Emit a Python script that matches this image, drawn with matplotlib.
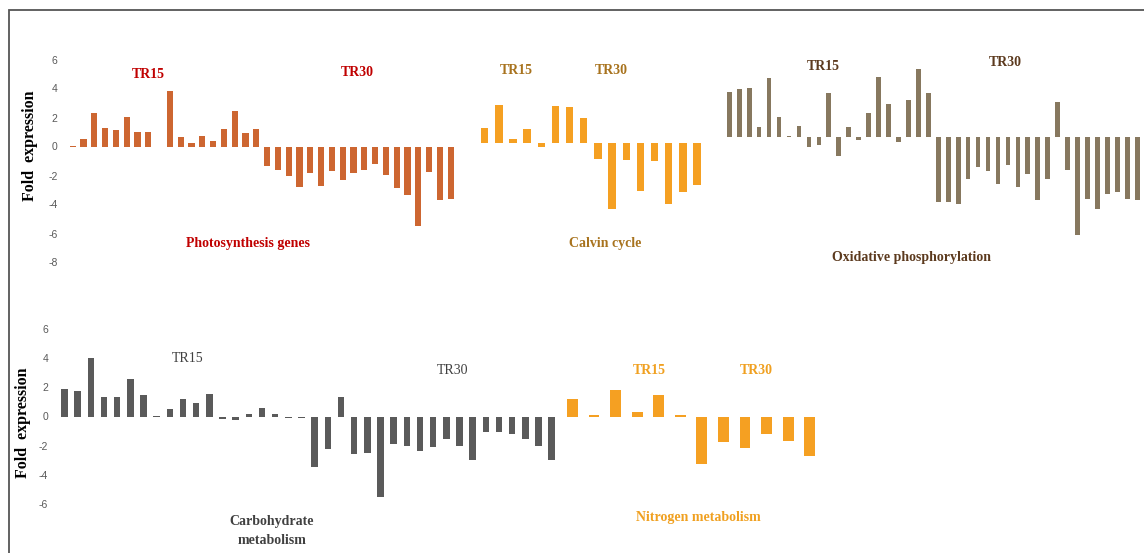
import numpy as np
import matplotlib.pyplot as plt
from matplotlib.patches import Rectangle

W, H = 1144, 553

# fold expression values (TR15 first, then TR30)
photo_tr15 = [0.05, 0.5, 2.3, 1.3, 1.15, 2.05, 1.0, 1.0, 0.0, 3.8, 0.65, 0.25, 0.7, 0.35, 1.2, 2.45, 0.9, 1.2]
photo_tr30 = [-1.35, -1.6, -2.0, -2.8, -1.8, -2.7, -1.7, -2.3, -1.85, -1.65, -1.2, -1.95, -2.85, -3.35, -5.5, -1.75, -3.7, -3.65]

calvin_tr15 = [1.07, 2.64, 0.3, 0.98, -0.27, 2.57, 2.48, 1.77]
calvin_tr30 = [-1.05, -4.55, -1.14, -3.3, -1.2, -4.2, -3.36, -2.9]

oxphos_tr15 = [3.07, 3.3, 3.36, 0.66, 4.02, 1.34, 0.05, 0.75, -0.73, -0.59, 3.02, -1.36, 0.7, -0.23, 1.64,
               4.09, 2.25, -0.36, 2.5, 4.66, 2.98]
oxphos_tr30 = [-4.5, -4.5, -4.64, -2.9, -2.09, -2.36, -3.25, -1.95, -3.5, -2.6, -4.36, -2.95, 2.39, -2.27,
               -6.8, -4.27, -5.0, -3.98, -3.8, -4.27, -4.36]

carb_tr15 = [1.86, 1.77, 3.98, 1.36, 1.36, 2.57, 1.47, 0.05, 0.5, 1.22, 0.9, 1.56, -0.18, -0.23, 0.2, 0.55,
             0.2, -0.08, -0.08]
carb_tr30 = [-3.45, -2.23, 1.31, -2.57, -2.53, -5.5, -1.88, -2.0, -2.34, -2.11, -1.54, -2.05, -2.99, -1.08,
             -1.08, -1.2, -1.54, -2.0, -2.99]

nitro_tr15 = [1.22, 0.11, 1.82, 0.32, 1.52, 0.14]
nitro_tr30 = [-3.24, -1.72, -2.16, -1.17, -1.66, -2.69]

fig = plt.figure(figsize=(W / 100, H / 100), dpi=100)

# frame around the figure
fig.patches.append(Rectangle((9 / W, -0.1), 1.2, 1.1 - 10 / H, transform=fig.transFigure,
                             fill=False, edgecolor='#555555', linewidth=1.3))


def panel(vals, first_px, last_px, zero_px, ylim, color, width, ppu=14.5, ticks=None):
    n = len(vals)
    step = (last_px - first_px) / (n - 1)
    left = first_px - step / 2
    top = zero_px - ylim[1] * ppu
    bottom = zero_px - ylim[0] * ppu
    ax = fig.add_axes([left / W, 1 - bottom / H, n * step / W, (bottom - top) / H])
    ax.bar(np.arange(n), vals, width=width, color=color, edgecolor='none')
    ax.set_xlim(-0.5, n - 0.5)
    ax.set_ylim(*ylim)
    ax.set_xticks([])
    for s in ax.spines.values():
        s.set_visible(False)
    ax.patch.set_alpha(0)
    if ticks is None:
        ax.set_yticks([])
    else:
        ax.set_yticks(ticks)
        ax.set_yticklabels([str(t) for t in ticks], color='#595959', fontsize=7.5,
                           family='Liberation Sans')
        ax.tick_params(axis='y', length=0, pad=7)
    return ax


def label(x, y, s, color, size=10, weight='bold', **kw):
    fig.text(x / W, 1 - y / H, s, color=color, fontsize=size, fontweight=weight,
             family='Liberation Serif', ha='center', va='center', **kw)


panel(photo_tr15 + photo_tr30, 72.7, 450.7, 146.5, (-8, 6), '#CD6631', 0.56, ticks=list(range(6, -9, -2)))
panel(calvin_tr15 + calvin_tr30, 484.7, 697.0, 143.3, (-8, 6), '#F5A022', 0.52)
panel(oxphos_tr15 + oxphos_tr30, 729.3, 1137.3, 136.7, (-8, 6), '#87785F', 0.47)
panel(carb_tr15 + carb_tr30, 64.5, 551.7, 416.5, (-6, 6), '#5A5A5A', 0.5, ppu=14.6,
      ticks=list(range(6, -7, -2)))
panel(nitro_tr15 + nitro_tr30, 572.5, 809.7, 416.7, (-6, 6), '#F5A022', 0.5, ppu=14.6)

# axis titles
label(30, 146, 'Fold  expression', 'black', size=11.5, rotation=90)
label(23, 423, 'Fold  expression', 'black', size=11.5, rotation=90)

# photosynthesis
red = '#C00000'
label(148, 75, 'TR15', red)
label(357, 72, 'TR30', red)
label(248, 244, 'Photosynthesis genes', red)

# calvin cycle
gold = '#A8731E'
label(516, 71, 'TR15', gold)
label(611, 71, 'TR30', gold)
label(605, 244, 'Calvin cycle', gold)

# oxidative phosphorylation
brown = '#5C3A1E'
label(823, 66, 'TR15', brown)
label(1005, 63, 'TR30', brown)
label(912, 258, 'Oxidative phosphorylation', brown)

# carbohydrate metabolism
grey = '#404040'
label(188, 359, 'TR15', grey, weight='normal')
label(453, 370, 'TR30', grey, weight='normal')
label(272, 521, 'Carbohydrate', grey)
label(272, 541, 'metabolism', grey)

# nitrogen metabolism
orange = '#F0A020'
label(649, 371, 'TR15', orange)
label(756, 371, 'TR30', orange)
label(698, 518, 'Nitrogen metabolism', orange)

fig.savefig('out.png', dpi=100)
